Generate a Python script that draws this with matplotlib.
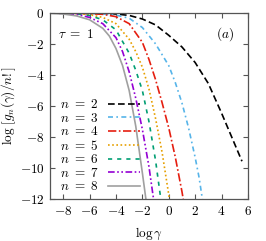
import matplotlib
matplotlib.use("Agg")
import matplotlib.pyplot as plt
from matplotlib.ticker import FuncFormatter

plt.rcParams['mathtext.fontset'] = 'cm'
plt.rcParams['font.family'] = 'serif'
plt.rcParams['font.serif'] = ['DejaVu Serif']

# values (x = log gamma, y = log[g_n/n!])
x2 = [-9, -7, -5, -4, -3, -2, -1, 0, 1, 2, 3, 4, 5, 5.55]
y2 = [0, -0.01, -0.04, -0.08, -0.17, -0.4, -0.78, -1.45, -2.2, -3.2, -4.55, -6.45, -8.45, -9.55]

x3 = [-9, -7, -5, -4, -3, -2, -1, 0, 0.5, 1, 1.5, 2, 2.3, 2.55]
y3 = [0, -0.02, -0.07, -0.15, -0.35, -0.95, -2.0, -3.4, -4.5, -5.8, -7.4, -9.3, -10.6, -12]

x4 = [-9, -7, -5, -4, -3, -2, -1.5, -1, -0.5, 0, 0.5, 1, 1.1]
y4 = [0, -0.03, -0.1, -0.25, -0.7, -1.9, -3.0, -4.3, -5.8, -7.4, -9.3, -11.5, -12]

x5 = [-9, -7, -6, -5, -4, -3, -2.5, -2, -1.5, -1, -0.5, 0, 0.05]
y5 = [0, -0.05, -0.12, -0.3, -0.7, -1.7, -2.5, -3.5, -4.9, -6.8, -9.0, -11.7, -12]

x6 = [-9, -7, -6, -5, -4, -3, -2.5, -2, -1.5, -1, -0.6]
y6 = [0, -0.07, -0.18, -0.45, -1.1, -2.6, -3.7, -5.0, -7.0, -9.5, -12]

x7 = [-9, -7, -6, -5, -4, -3.5, -3, -2.5, -2, -1.5, -1.15]
y7 = [0, -0.1, -0.3, -0.7, -1.6, -2.5, -3.8, -5.5, -7.5, -9.9, -12]

x8 = [-9, -8, -7, -6, -5, -4.5, -4, -3.5, -3, -2.5, -2, -1.73]
y8 = [-0.03, -0.08, -0.2, -0.45, -1.0, -1.5, -2.3, -3.4, -5.0, -7.3, -10.3, -12]

curves = [(2, x2, y2), (3, x3, y3), (4, x4, y4), (5, x5, y5),
          (6, x6, y6), (7, x7, y7), (8, x8, y8)]

colors = {2: 'black', 3: '#56B4E9', 4: '#E51E10', 5: '#E69F00',
          6: '#009E73', 7: '#9400D3', 8: '#A0A0A0'}
dashes = {2: (4, 2), 3: (3, 2, 1, 2), 4: (5, 1.5, 1, 1.5), 5: (1, 1.5),
          6: (2.5, 3), 7: (4, 1.5, 1, 1.5, 1, 1.5), 8: ()}

fig = plt.figure(figsize=(2.66, 2.41), dpi=100)
ax = fig.add_axes([0.188, 0.173, 0.744, 0.774])

for n, xs, ys in curves:
    line, = ax.plot(xs, ys, color=colors[n], lw=1.2, label=r'$n\ =\ %d$' % n)
    if dashes[n]:
        line.set_dashes(dashes[n])

ax.set_xlim(-9, 6)
ax.set_ylim(-12, 0)
ax.set_xticks(range(-8, 7, 2))
ax.set_yticks(range(-12, 1, 2))
fmt = FuncFormatter(lambda v, p: r'$%d$' % v)
ax.xaxis.set_major_formatter(fmt)
ax.yaxis.set_major_formatter(fmt)
ax.tick_params(direction='in', top=True, right=True, length=3.5, width=0.8,
               color='#555555', labelsize=9.5, pad=4)
for s in ax.spines.values():
    s.set_color('#555555')
    s.set_linewidth(0.9)

ax.set_xlabel(r'$\log\gamma$', fontsize=9.5, labelpad=6)
ax.set_ylabel(r'$\log\,[g_n(\gamma)/n!]$', fontsize=9.5)
ax.yaxis.set_label_coords(-0.16, 0.5)

ax.text(0.04, 0.885, r'$\tau\ =\ 1$', transform=ax.transAxes, fontsize=9.5,
        ha='left', va='center')
ax.text(0.93, 0.885, r'$(a)$', transform=ax.transAxes, fontsize=9.5,
        ha='right', va='center')

ax.legend(loc='lower left', bbox_to_anchor=(0.02, 0.0), frameon=False,
          markerfirst=False, fontsize=9.5, handlelength=2.4, handletextpad=0.7,
          labelspacing=0.04, borderaxespad=0.2, borderpad=0.25)

fig.savefig('out.png', dpi=100)
